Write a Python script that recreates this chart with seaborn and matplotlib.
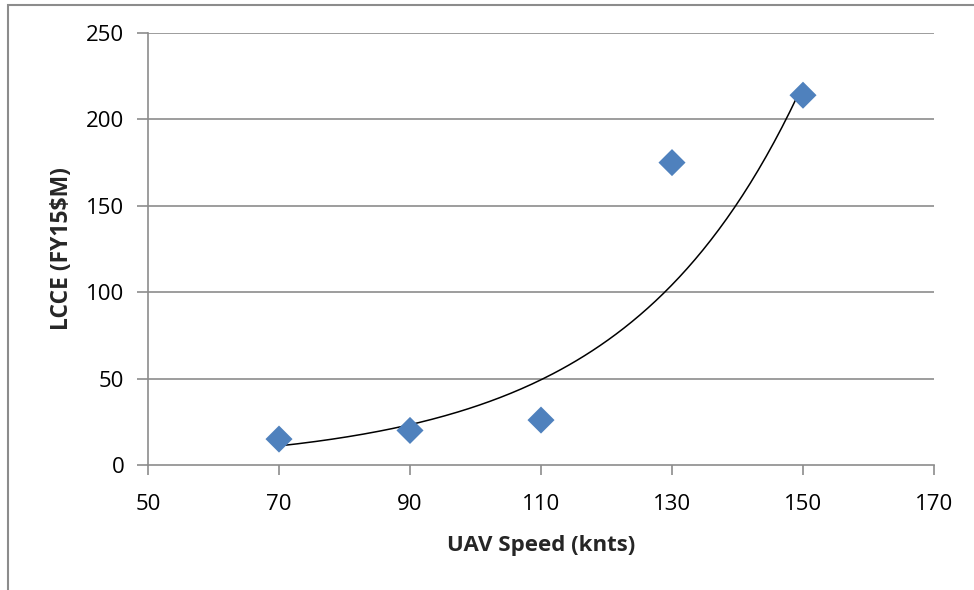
import numpy as np
import pandas as pd
import matplotlib.pyplot as plt
import seaborn as sns
from matplotlib.patches import Rectangle

# --- DATA ---
speed = [70, 90, 110, 130, 150]
lcce = [15, 20, 26, 175, 214]
x_ticks = [50, 70, 90, 110, 130, 150, 170]
y_ticks = [0, 50, 100, 150, 200, 250]

df = pd.DataFrame({'speed': speed, 'lcce': lcce})

sns.set_style('white')
plt.rcParams['font.family'] = ['Open Sans', 'DejaVu Sans']

fig = plt.figure(figsize=(9.74, 5.90), dpi=100)
ax = fig.add_axes([148 / 974, 1 - 465 / 590, (934 - 148) / 974, (465 - 33) / 590])

# outer chart frame (Excel style)
fig.patches.append(Rectangle((8 / 974, -0.1), 1.2, 0.1 + 1 - 5 / 590, transform=fig.transFigure,
                             fill=False, edgecolor='#8c8c8c', linewidth=1.5))

# horizontal gridlines
for yv in y_ticks[1:]:
    ax.axhline(yv, color='#8c8c8c', linewidth=1.2, zorder=0)

# exponential trendline (Excel-style fit)
b, a = np.polyfit(df['speed'], np.log(df['lcce']), 1)
xs = np.linspace(min(speed), max(speed), 200)
ax.plot(xs, np.exp(a) * np.exp(b * xs), color='black', linewidth=1.1, zorder=2)

sns.scatterplot(data=df, x='speed', y='lcce', marker='D', s=190, color='#4F81BD',
                edgecolor='none', ax=ax, zorder=3)

ax.set_xlim(50, 170)
ax.set_ylim(0, 250)
ax.set_xticks(x_ticks)
ax.set_yticks(y_ticks)

for side in ['top', 'right']:
    ax.spines[side].set_visible(False)
for side in ['left', 'bottom']:
    ax.spines[side].set_color('#8c8c8c')
    ax.spines[side].set_linewidth(1.2)

ax.tick_params(axis='both', which='major', direction='out', length=7, width=1.2,
               color='#8c8c8c', labelsize=16, labelcolor='black')
ax.tick_params(axis='x', pad=14, bottom=True)
ax.tick_params(axis='y', pad=9, length=8, left=True)

ax.set_xlabel('UAV Speed (knts)', fontsize=16, fontweight='bold', labelpad=14)
ax.set_ylabel('LCCE (FY15$M)', fontsize=16.5, fontweight='bold', labelpad=9)

fig.savefig('out.png', dpi=100)
